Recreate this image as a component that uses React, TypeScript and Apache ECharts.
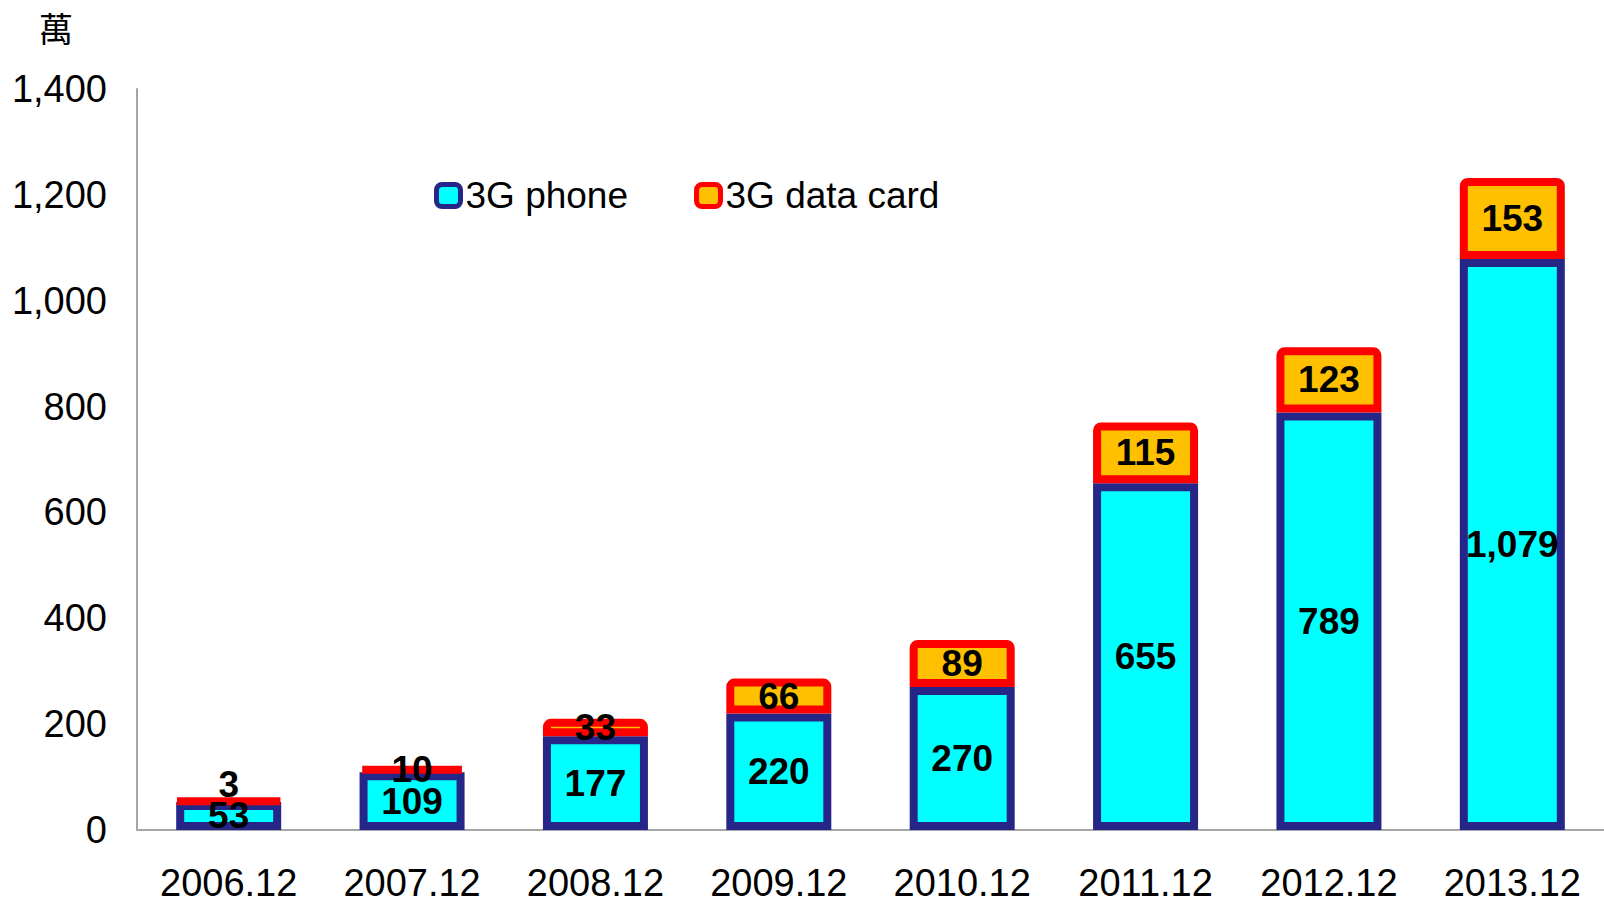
import React, { useEffect, useRef } from "react";
import * as echarts from "echarts";

const categories = ["2006.12", "2007.12", "2008.12", "2009.12", "2010.12", "2011.12", "2012.12", "2013.12"];
const phoneValues = [53, 109, 177, 220, 270, 655, 789, 1079];
const cardValues = [3, 10, 33, 66, 89, 115, 123, 153];
const yTicks = { min: 0, max: 1400, interval: 200 };
const unitLabel = "萬";
const seriesNames = ["3G phone", "3G data card"];

const FONT = "'Liberation Sans', Arial, sans-serif";
const NAVY = "#262689";
const CYAN = "#00FFFF";
const RED = "#FF0000";
const ORANGE = "#FFC000";

export default function App() {
  const ref = useRef<HTMLDivElement>(null);
  useEffect(() => {
    if (!ref.current) return;
    const chart = echarts.init(ref.current, undefined, { renderer: "svg" });
    const fmt = (v: number) => v.toLocaleString("en-US");
    chart.setOption({
      animation: false,
      backgroundColor: "#ffffff",
      grid: { left: 137, right: 0, top: 89, bottom: 73, containLabel: false },
      graphic: [
        {
          type: "text",
          left: 39,
          top: 10,
          style: { text: unitLabel, fontSize: 34, fill: "#000", fontFamily: "'Noto Sans CJK TC', sans-serif" },
        },
      ],
      legend: {
        left: 429,
        top: 172,
        itemWidth: 24,
        itemHeight: 22,
        itemGap: 66,
        itemTextGap: 6,
        icon: "roundRect",
        textStyle: { fontSize: 37, fontFamily: FONT, color: "#000" },
        data: [
          { name: seriesNames[0], itemStyle: { color: CYAN, borderColor: NAVY, borderWidth: 5 } },
          { name: seriesNames[1], itemStyle: { color: ORANGE, borderColor: RED, borderWidth: 5 } },
        ],
      },
      xAxis: {
        type: "category",
        data: categories,
        axisLine: { lineStyle: { color: "#A6A6A6", width: 2 } },
        axisTick: { show: false },
        axisLabel: { fontSize: 38, fontFamily: FONT, color: "#000", margin: 34 },
      },
      yAxis: {
        type: "value",
        min: yTicks.min,
        max: yTicks.max,
        interval: yTicks.interval,
        axisLine: { show: true, lineStyle: { color: "#A6A6A6", width: 2 } },
        axisTick: { show: false },
        splitLine: { show: false },
        axisLabel: { fontSize: 38, fontFamily: FONT, color: "#000", margin: 30, formatter: (v: number) => fmt(v) },
      },
      series: [
        {
          name: seriesNames[0],
          type: "bar",
          stack: "total",
          barWidth: 105,
          data: phoneValues,
          itemStyle: { color: CYAN, borderColor: NAVY, borderWidth: 8 },
          label: {
            show: true,
            position: "inside",
            fontSize: 37,
            fontWeight: "bold",
            fontFamily: FONT,
            color: "#000",
            formatter: (p: any) => fmt(p.value),
          },
        },
        {
          name: seriesNames[1],
          type: "bar",
          stack: "total",
          barWidth: 105,
          data: cardValues.map((v, i) =>
            i === 0
              ? { value: v, label: { position: "top", distance: -6 } }
              : { value: v }
          ),
          itemStyle: { color: ORANGE, borderColor: RED, borderWidth: 8, borderRadius: [4, 4, 0, 0] },
          label: {
            show: true,
            position: "inside",
            fontSize: 37,
            fontWeight: "bold",
            fontFamily: FONT,
            color: "#000",
            formatter: (p: any) => fmt(p.value),
          },
        },
      ],
    });
    return () => chart.dispose();
  }, []);
  return (
    <div
      ref={ref}
      style={{ position: "absolute", left: 0, top: 0, width: 1604, height: 903 }}
    />
  );
}
